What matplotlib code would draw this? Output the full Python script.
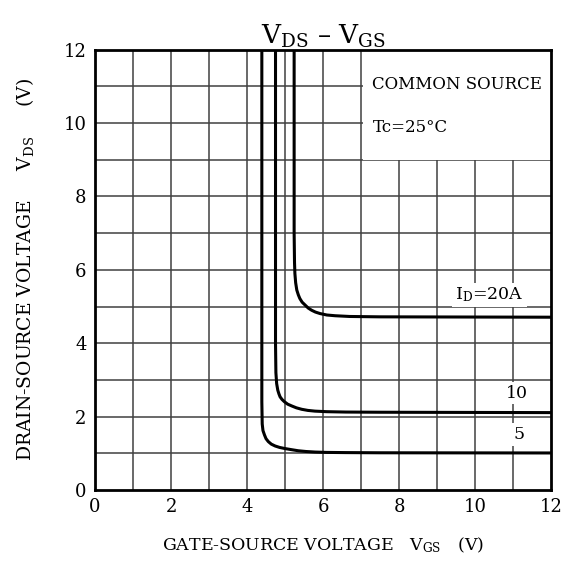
import matplotlib
matplotlib.use("Agg")
import matplotlib.pyplot as plt
from matplotlib.patches import Rectangle

plt.rcParams["font.family"] = "DejaVu Serif"
plt.rcParams["mathtext.fontset"] = "dejavuserif"

# curves: VGS (V) and VDS (V)
vgs_20a = [5.24, 5.24, 5.25, 5.26, 5.28, 5.31, 5.35, 5.39, 5.45, 5.53, 5.61, 5.70,
           5.80, 5.92, 6.10, 6.32, 6.70, 7.50, 12.0]
vds_20a = [12.0, 7.00, 6.20, 5.90, 5.65, 5.45, 5.32, 5.22, 5.12, 5.04, 4.96, 4.90,
           4.85, 4.81, 4.77, 4.75, 4.73, 4.72, 4.71]

vgs_10a = [4.75, 4.75, 4.76, 4.78, 4.81, 4.84, 4.87, 4.92, 4.98, 5.07, 5.18, 5.30,
           5.44, 5.60, 5.79, 6.10, 6.60, 7.50, 12.0]
vds_10a = [12.0, 4.00, 3.20, 2.90, 2.72, 2.62, 2.54, 2.47, 2.41, 2.34, 2.29, 2.24,
           2.20, 2.17, 2.15, 2.135, 2.125, 2.12, 2.11]

vgs_5a = [4.39, 4.39, 4.40, 4.42, 4.46, 4.50, 4.56, 4.64, 4.74, 4.86, 5.00, 5.17,
          5.35, 5.55, 5.79, 6.10, 6.60, 7.50, 12.0]
vds_5a = [12.0, 2.40, 1.80, 1.62, 1.50, 1.40, 1.32, 1.25, 1.20, 1.16, 1.13, 1.10,
          1.07, 1.05, 1.035, 1.025, 1.02, 1.015, 1.01]

curve_labels = ["$\\mathrm{I_D}$=20A", "10", "5"]
label_pos = [(10.38, 5.32), (11.1, 2.64), (11.15, 1.52)]

fig = plt.figure(figsize=(5.71, 5.65), dpi=100)
ax = fig.add_axes([0.1664, 0.1327, 0.7986, 0.7793])

ax.set_xlim(0, 12)
ax.set_ylim(0, 12)

# grid every 1 V
for v in range(1, 12):
    ax.axvline(v, color="0.25", lw=1.1, zorder=1)
    ax.axhline(v, color="0.25", lw=1.1, zorder=1)

# blank area for the conditions text
ax.add_patch(Rectangle((7.04, 9.0), 4.96, 3.0, facecolor="white",
                       edgecolor="none", zorder=2))

for xs, ys in [(vgs_20a, vds_20a), (vgs_10a, vds_10a), (vgs_5a, vds_5a)]:
    ax.plot(xs, ys, color="black", lw=2.2, zorder=4, solid_capstyle="butt",
            solid_joinstyle="round")

for lab, (lx, ly) in zip(curve_labels, label_pos):
    ax.text(lx, ly, lab, fontsize=12.5, ha="center", va="center", zorder=5,
            bbox=dict(facecolor="white", edgecolor="none", pad=2))

ax.text(7.3, 11.05, "COMMON SOURCE", fontsize=12, va="center", zorder=5)
ax.text(7.3, 9.88, "Tc=25°C", fontsize=12, va="center", zorder=5)

ax.set_xticks(range(0, 13, 2))
ax.set_yticks(range(0, 13, 2))
ax.tick_params(length=0, labelsize=13, pad=6)
for s in ax.spines.values():
    s.set_linewidth(2)
    s.set_zorder(6)

ax.set_title("$\\mathrm{V_{DS}}$ – $\\mathrm{V_{GS}}$", fontsize=19, pad=3)
ax.set_xlabel("GATE-SOURCE VOLTAGE   $\\mathrm{V_{GS}}$   (V)", fontsize=12.5, labelpad=14)
ax.set_ylabel("DRAIN-SOURCE VOLTAGE     $\\mathrm{V_{DS}}$     (V)", fontsize=13.5, labelpad=20)

fig.savefig("out.png", dpi=100)
